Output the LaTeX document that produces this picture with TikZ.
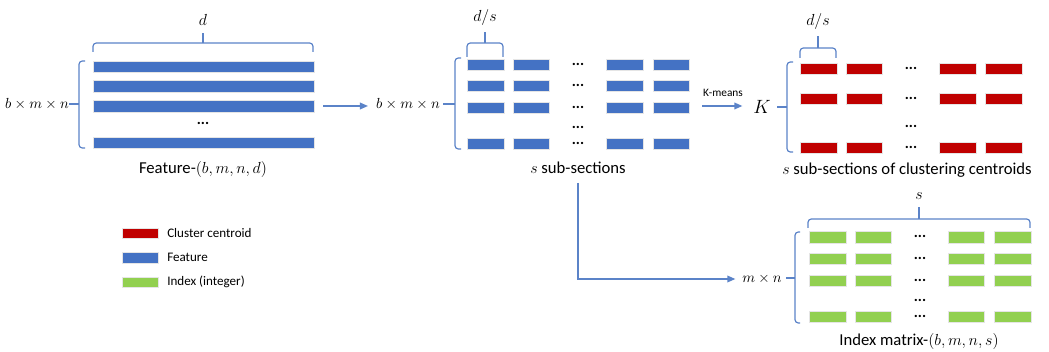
\documentclass[tikz,border=0pt]{standalone}
\usepackage{fontspec}
\setmainfont{Carlito}
\usetikzlibrary{arrows.meta}
\definecolor{featblue}{HTML}{4472C4}
\definecolor{centred}{HTML}{C00000}
\definecolor{idxgreen}{HTML}{92D050}
\definecolor{linecol}{HTML}{5B83C8}
\tikzset{
  bar/.style={draw=white!80!gray, line width=0.4pt, inner sep=0pt, outer sep=0pt},
  fbar/.style={bar, fill=featblue},
  rbar/.style={bar, fill=centred},
  gbar/.style={bar, fill=idxgreen},
  brk/.style={draw=linecol, line width=0.9pt, rounded corners=2.5pt},
  conn/.style={draw=linecol, line width=1pt, -{Triangle[length=6pt,width=5pt]}},
  captxt/.style={font=\fontsize{12.5}{15}\selectfont, inner sep=0pt},
  mlab/.style={font=\fontsize{10.5}{12}\selectfont, inner sep=0pt},
  toplab/.style={font=\fontsize{13}{15}\selectfont, inner sep=0pt},
  legtxt/.style={font=\fontsize{9.8}{12}\selectfont, anchor=west, inner sep=0pt},
  dotsn/.style={font=\fontsize{11.5}{12}\selectfont\bfseries, inner sep=0pt}
}
\newcommand{\mybar}[6]{\node[#1, minimum width={(#4-#2)*0.75pt}, minimum height={(#5-#3)*0.75pt}, anchor=north west] (#6) at (#2,#3) {};}
\begin{document}
\begin{tikzpicture}[x=0.75pt,y=-0.75pt]
\useasboundingbox (0,0) rectangle (1049,352);

% ---------- Panel 1: Feature ----------
\mybar{fbar}{93}{61}{314}{72}{f1}
\mybar{fbar}{93}{80}{314}{92}{f2}
\mybar{fbar}{93}{100}{314}{112}{f3}
\mybar{fbar}{93}{137}{314}{148}{f4}
\node[dotsn] (fdots) at (203,123) {...};
\draw[brk] (93,52) -- (93,43) -- (313,43) -- (313,52);
\draw[brk] (203,43) -- (203,33);
\node[toplab] (dlab) at (203,20) {$d$};
\draw[brk] (85,61) -- (79,61) -- (79,148) -- (85,148);
\node[mlab] (lab1) at (37,104) {$b\times m\times n$};
\draw[brk] (lab1.east) -- (79,104);
\node[captxt] (cap1) at (203,170) {Feature-$(b,m,n,d)$};
\coordinate (a1) at (323,106);

% ---------- Panel 2: sub-sections ----------
\foreach \r/\ya/\yb in {1/59/70, 2/80/91, 3/102/113, 4/138/149}{
  \mybar{fbar}{467}{\ya}{504}{\yb}{s\r a}
  \mybar{fbar}{513}{\ya}{549}{\yb}{s\r b}
  \mybar{fbar}{606}{\ya}{643}{\yb}{s\r d}
  \mybar{fbar}{653}{\ya}{689}{\yb}{s\r e}
}
\foreach \r/\y in {1/64, 2/85, 3/107, 4/143, 5/127}{
  \node[dotsn] (sd\r) at (578,\y) {...};
}
\draw[brk] (467,57) -- (467,43) -- (503,43) -- (503,57);
\draw[brk] (485,43) -- (485,32);
\node[toplab] (dslab2) at (485,18) {$d/s$};
\draw[brk] (461,58) -- (455,58) -- (455,149) -- (461,149);
\node[mlab] (lab2) at (408,104) {$b\times m\times n$};
\draw[brk] (443,104) -- (455,104);
\node[captxt] (cap2) at (578,168) {$s$ sub-sections};
\draw[conn, shorten >=6pt] (a1) -- (a1 -| lab2.west);

% ---------- Panel 3: centroids ----------
\foreach \r/\ya/\yb in {1/63/74, 2/93/104, 3/142/153}{
  \mybar{rbar}{800}{\ya}{837}{\yb}{c\r a}
  \mybar{rbar}{846}{\ya}{882}{\yb}{c\r b}
  \mybar{rbar}{939}{\ya}{976}{\yb}{c\r d}
  \mybar{rbar}{985}{\ya}{1022}{\yb}{c\r e}
}
\foreach \r/\y in {1/68, 2/98, 3/147, 4/126}{
  \node[dotsn] (cd\r) at (911,\y) {...};
}
\draw[brk] (800,58) -- (800,48) -- (836,48) -- (836,58);
\draw[brk] (818,48) -- (818,36);
\node[toplab] (dslab3) at (818,22) {$d/s$};
\draw[brk] (793,62) -- (787,62) -- (787,152) -- (793,152);
\node[font=\fontsize{13.5}{15}\selectfont, inner sep=0pt] (klab) at (762,107) {$K$};
\draw[brk] (777,107) -- (787,107);
\node[captxt] (cap3) at (907,170) {$s$ sub-sections of clustering centroids};
\coordinate (a2) at (702,106);
\draw[conn, shorten >=8pt] (a2) -- (a2 -| klab.west);
\node[font=\fontsize{8.5}{10}\selectfont, inner sep=0pt] (kmeans) at (723,93) {K-means};

% ---------- Panel 4: index matrix ----------
\foreach \r/\ya/\yb in {1/231/243, 2/253/264, 3/275/286, 4/311/322}{
  \mybar{gbar}{809}{\ya}{846}{\yb}{g\r a}
  \mybar{gbar}{855}{\ya}{891}{\yb}{g\r b}
  \mybar{gbar}{948}{\ya}{984}{\yb}{g\r d}
  \mybar{gbar}{994}{\ya}{1031}{\yb}{g\r e}
}
\foreach \r/\y in {1/236, 2/258, 3/280, 4/316, 5/300}{
  \node[dotsn] (gd\r) at (920,\y) {...};
}
\draw[brk] (808,228) -- (808,219) -- (1030,219) -- (1030,228);
\draw[brk] (919,219) -- (919,207);
\node[toplab] (slab) at (919,196) {$s$};
\draw[brk] (800,232) -- (795,232) -- (795,323) -- (800,323);
\node[mlab] (lab4) at (762,279) {$m\times n$};
\draw[brk] (786,278) -- (795,278);
\node[captxt] (cap4) at (919,342) {Index matrix-$(b,m,n,s)$};
\coordinate (a3) at (578,183);
\draw[conn, shorten >=5pt] (a3) |- (lab4.west);

% ---------- Legend ----------
\mybar{rbar}{122}{228}{158}{238}{lr}
\mybar{fbar}{122}{252}{158}{263}{lb}
\mybar{gbar}{122}{277}{158}{287}{lg}
\node[legtxt] (tr) at (167,233) {Cluster centroid};
\node[legtxt] (tb) at (167,257.5) {Feature};
\node[legtxt] (tg) at (167,282) {Index (integer)};
\end{tikzpicture}
\end{document}
